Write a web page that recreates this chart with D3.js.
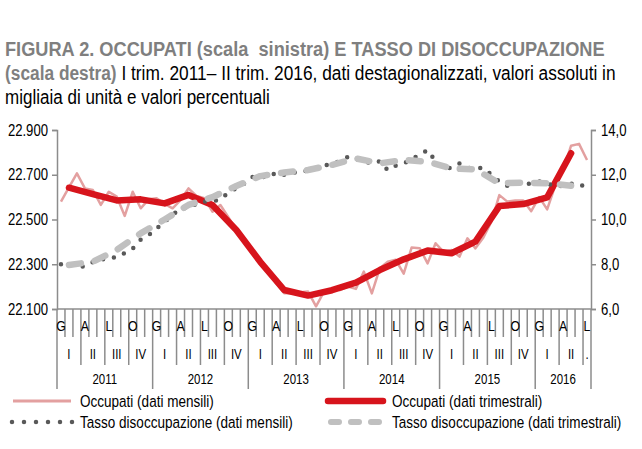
<!DOCTYPE html>
<html>
<head>
<meta charset="utf-8">
<script src="https://d3js.org/d3.v7.min.js"></script>
<style>
  body { margin: 0; background: #fff; }
  svg { display: block; font-family: "Liberation Sans", Arial, sans-serif; }
</style>
</head>
<body>
<svg id="chart" width="642" height="449"></svg>
<script>
// months Jan 2011 - Jul 2016
const monthLabels = ["G", "", "", "A", "", "", "L", "", "", "O", "", ""];
const quarterLabels = ["I", "II", "III", "IV"];
const years = [2011, 2012, 2013, 2014, 2015, 2016];
const nMonths = 67;

// Occupati, migliaia (dati mensili)
const occMensili = [
  22580, 22644, 22706, 22639, 22632, 22565, 22624, 22602, 22516, 22624, 22550, 22590,
  22595, 22570, 22550, 22587, 22639, 22605, 22595, 22535, 22565, 22510, 22455, 22400,
  22350, 22310, 22270, 22215, 22170, 22170, 22175, 22178, 22112, 22177, 22192, 22185,
  22200, 22190, 22267, 22170, 22282, 22311, 22320, 22258, 22375, 22372, 22304, 22394,
  22355, 22364, 22334, 22416, 22371, 22420, 22490, 22609, 22580, 22585, 22585, 22537,
  22600, 22545, 22650, 22720, 22830, 22838, 22766
];
// Occupati, migliaia (dati trimestrali), I trim. 2011 - II trim. 2016
const occTrim = [
  22642, 22613, 22585, 22590, 22572, 22610, 22565, 22453, 22311, 22185, 22160,
  22184, 22218, 22274, 22322, 22361, 22349, 22401, 22560, 22569, 22599, 22796
];
// Tasso di disoccupazione, % (dati mensili)
const disMensili = [
  8.0, 8.0, 7.9, 7.9, 8.1, 8.2, 8.3, 8.3, 8.5, 8.7, 9.1, 9.3,
  9.6, 9.9, 10.2, 10.5, 10.5, 10.7, 10.8, 10.8, 10.9, 11.2, 11.4, 11.6,
  11.9, 11.9, 11.9, 12.1, 12.0, 12.1, 12.1, 12.2, 12.3, 12.4, 12.5, 12.6,
  12.8, 12.7, 12.6, 12.5, 12.6, 12.2, 12.4, 12.5, 12.7, 12.9, 13.1, 12.6,
  12.3, 12.3, 12.5, 12.3, 12.3, 12.3, 12.0, 11.7, 11.5, 11.6, 11.6, 11.6,
  11.7, 11.6, 11.5, 11.5, 11.6, 11.6, 11.4
];
// Tasso di disoccupazione, % (dati trimestrali)
const disTrim = [
  7.97, 8.11, 8.64, 9.38, 10.0, 10.65, 11.0, 11.5, 11.94, 12.1, 12.21,
  12.44, 12.73, 12.51, 12.66, 12.58, 12.28, 12.24, 11.62, 11.65, 11.62, 11.51
];
const leftTicks = [22100, 22300, 22500, 22700, 22900];
const rightTicks = [6, 8, 10, 12, 14];

const svg = d3.select("#chart");
const axisColor = "#8c8c8c";
const k = 0.82; // no Arial Narrow here, so squeeze the sans horizontally

const x = d3.scaleBand().domain(d3.range(nMonths)).range([57, 591]);
const yL = d3.scaleLinear().domain([22100, 22900]).range([309, 130]);
const yR = d3.scaleLinear().domain([6, 14]).range([309, 130]);
const cx = i => x(i) + x.bandwidth() / 2;

function ntext(parent, px, py, s, size) {
  return parent.append("text")
    .attr("transform", `translate(${px},${py}) scale(${k},1)`)
    .attr("font-size", size + "px")
    .text(s);
}
function narrowTicks(g) {
  g.selectAll("text").each(function() {
    const t = d3.select(this);
    t.attr("x", +t.attr("x") / k).attr("transform", `scale(${k},1)`)
     .attr("font-size", "16px").attr("fill", "#000")
     .attr("font-family", "\"Liberation Sans\", Arial, sans-serif");
  });
}
// fit a title line to the width it has in the original
function fitLine(sel, px, py, right) {
  const w = sel.node().getComputedTextLength();
  sel.attr("transform", `translate(${px},${py}) scale(${(right - px) / w},1)`);
}

// title
const title = svg.append("g").attr("font-size", "21px");
const t1 = title.append("text").attr("font-weight", "bold").attr("fill", "#7f7f7f")
  .style("white-space", "pre")
  .text("FIGURA 2. OCCUPATI (scala  sinistra) E TASSO DI DISOCCUPAZIONE");
fitLine(t1, 5, 56, 605);
const t2 = title.append("text");
t2.append("tspan").attr("font-weight", "bold").attr("fill", "#7f7f7f").text("(scala destra)");
t2.append("tspan").attr("fill", "#000").text(" I trim. 2011\u2013 II trim. 2016, dati destagionalizzati, valori assoluti in");
fitLine(t2, 5, 80, 616);
const t3 = title.append("text").attr("fill", "#000")
  .text("migliaia di unit\u00e0 e valori percentuali");
fitLine(t3, 5, 104, 270);

// axes
const fmtL = d3.format(",.0f");
svg.append("g").attr("transform", "translate(57,0)")
  .call(d3.axisLeft(yL).tickValues(leftTicks).tickSize(5).tickPadding(4)
    .tickFormat(d => fmtL(d).replace(",", ".")))
  .call(g => g.selectAll("path,line").attr("stroke", axisColor).attr("stroke-width", 1.5))
  .call(narrowTicks);

svg.append("g").attr("transform", "translate(591,0)")
  .call(d3.axisRight(yR).tickValues(rightTicks).tickSize(5).tickPadding(5)
    .tickFormat(d => d3.format(".1f")(d).replace(".", ",")))
  .call(g => g.selectAll("path,line").attr("stroke", axisColor).attr("stroke-width", 1.5))
  .call(narrowTicks);

// bottom multi-level category axis
const xa = svg.append("g").attr("stroke", axisColor).attr("stroke-width", 1.5);
xa.append("line").attr("x1", 57).attr("x2", 591).attr("y1", 309).attr("y2", 309);
for (let i = 0; i <= nMonths; i++) {
  const bx = i < nMonths ? x(i) : x(nMonths - 1) + x.bandwidth();
  let len = 28;
  if (i % 3 === 0 || i === nMonths) len = 56;
  if (i % 12 === 0 || i === nMonths) len = 80;
  xa.append("line").attr("x1", bx).attr("x2", bx).attr("y1", 309).attr("y2", 309 + len);
}
const lab = svg.append("g").attr("fill", "#000").attr("text-anchor", "middle");
d3.range(nMonths).forEach(i => {
  const l = monthLabels[i % 12];
  if (l) ntext(lab, cx(i), 331, l, 15);
});
d3.range(Math.ceil(nMonths / 3)).forEach(q => {
  const a = q * 3, b = Math.min(q * 3 + 3, nMonths);
  const mid = (x(a) + x(b - 1) + x.bandwidth()) / 2;
  const txt = b - a < 3 ? "." : quarterLabels[q % 4];
  ntext(lab, mid, 359, txt, 14);
});
years.forEach((yr, j) => {
  const a = j * 12, b = Math.min(j * 12 + 12, nMonths);
  const mid = (x(a) + x(b - 1) + x.bandwidth()) / 2;
  ntext(lab, mid, 384, yr, 14);
});

// series
const lineL = d3.line().x((d, i) => cx(i)).y(d => yL(d));
const lineLq = d3.line().x((d, i) => cx(i * 3 + 1)).y(d => yL(d));
const lineR = d3.line().x((d, i) => cx(i)).y(d => yR(d));
const lineRq = d3.line().x((d, i) => cx(i * 3 + 1)).y(d => yR(d));

svg.append("path").datum(occMensili).attr("d", lineL)
  .attr("fill", "none").attr("stroke", "#e3a0a0").attr("stroke-width", 2.5)
  .attr("stroke-linejoin", "round");
svg.append("path").datum(occTrim).attr("d", lineLq)
  .attr("fill", "none").attr("stroke", "#d7141c").attr("stroke-width", 6.5)
  .attr("stroke-linejoin", "round").attr("stroke-linecap", "round");
svg.append("path").datum(disMensili).attr("d", lineR)
  .attr("fill", "none").attr("stroke", "#595959").attr("stroke-width", 4.5)
  .attr("stroke-linecap", "round").attr("stroke-dasharray", "0,11");
svg.append("path").datum(disTrim).attr("d", lineRq)
  .attr("fill", "none").attr("stroke", "#c0c0c0").attr("stroke-width", 6.5)
  .attr("stroke-linecap", "round").attr("stroke-linejoin", "round")
  .attr("stroke-dasharray", "12,14");

// legend
const leg = svg.append("g").attr("fill", "#000");
leg.append("line").attr("x1", 13).attr("x2", 71).attr("y1", 401).attr("y2", 401)
  .attr("stroke", "#e3a0a0").attr("stroke-width", 3);
ntext(leg, 80, 407, "Occupati (dati mensili)", 16.5);
leg.append("line").attr("x1", 328).attr("x2", 383).attr("y1", 401).attr("y2", 401)
  .attr("stroke", "#d7141c").attr("stroke-width", 6.5).attr("stroke-linecap", "round");
ntext(leg, 392, 407, "Occupati (dati trimestrali)", 16.5);
leg.append("line").attr("x1", 12).attr("x2", 73).attr("y1", 422).attr("y2", 422)
  .attr("stroke", "#595959").attr("stroke-width", 4.5).attr("stroke-linecap", "round")
  .attr("stroke-dasharray", "0,12");
ntext(leg, 80, 428, "Tasso disoccupazione (dati mensili)", 16.5);
leg.append("line").attr("x1", 331).attr("x2", 381).attr("y1", 422).attr("y2", 422)
  .attr("stroke", "#c0c0c0").attr("stroke-width", 6).attr("stroke-linecap", "round")
  .attr("stroke-dasharray", "8,12");
ntext(leg, 392, 428, "Tasso disoccupazione (dati trimestrali)", 16.5);
</script>
</body>
</html>
